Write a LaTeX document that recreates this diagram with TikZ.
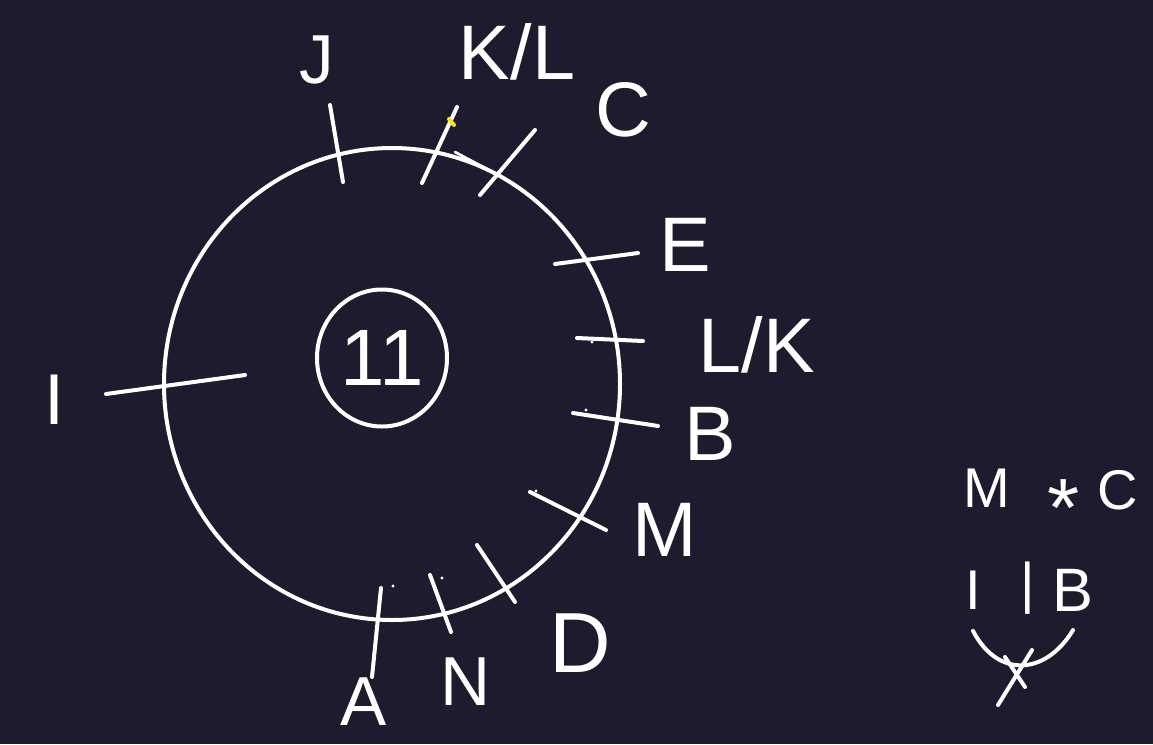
\documentclass[tikz,border=0pt]{standalone}
\usepackage{fontspec}
\setmainfont{Liberation Sans}
\usetikzlibrary{shapes.geometric}
\definecolor{board}{RGB}{30,27,46}
\definecolor{marker}{RGB}{250,230,20}

\begin{document}
\begin{tikzpicture}[x=0.75pt, y=-0.75pt,
  pen/.style={white, line width=3pt, line cap=round},
  letter/.style={text=white, inner sep=0pt, font=\fontsize{#1}{#1}\selectfont},
  letter/.default=58pt
]
\fill[board] (0,0) rectangle (1153,744);
\useasboundingbox (0,0) rectangle (1153,744);

% wheel and hub
\draw[pen] (392,384) ellipse [x radius=171pt, y radius=177pt];
\draw[pen, line width=2pt] (455,152) -- (485,168);
\node[pen, draw, ellipse, minimum width=97.5pt, minimum height=102.75pt, letter=60pt] (hub) at (382,358) {11};

% ticks on the wheel
\draw[pen] (330,105) -- (343,182);
\draw[pen] (457,107) -- (422,183);
\draw[pen] (535,130) -- (480,195);
\draw[pen] (555,264) -- (638,253);
\draw[pen] (577,338) -- (643,341);
\draw[pen] (573,413) -- (658,426);
\draw[pen] (530,492) -- (606,530);
\draw[pen] (477,545) -- (515,602);
\draw[pen] (430,575) -- (451,632);
\draw[pen] (381,588) -- (372,677);
\draw[pen] (106,394) -- (245,375);
\draw[marker, line width=3pt, line cap=round] (449,119) -- (454,125);
\foreach \p in {(393,586),(442,578),(536,491),(592,342),(586,410)}
  \fill[white] \p circle (1.2pt);

% labels round the wheel
\node[letter=52pt] (lJ) at (317,60) {J};
\node[letter] (lKL) at (517,52) {K/L};
\node[letter] (lC) at (623,110) {C};
\node[letter] (lE) at (685,245) {E};
\node[letter] (lLK) at (757,345) {L/K};
\node[letter] (lB) at (710,434) {B};
\node[letter] (lM) at (665,530) {M};
\node[letter=52pt] (lA) at (364,702) {A};
\node[letter=52pt] (lN) at (466,682) {N};
\node[letter=64pt] (lD) at (580,643) {D};
\node[letter=54pt] (lI) at (55,400) {I};

% side notes
\node[letter=42pt] (rM) at (987,488) {M};
\node[letter=62pt, anchor=base] (rStar) at (1064,536) {*};
\node[letter=42pt] (rC) at (1118,490) {C};
\node[letter=42pt] (rI) at (973,590) {I};
\node[letter=42pt] (rBar) at (1028,588) {|};
\node[letter=46pt] (rB) at (1073,590) {B};
\draw[pen] ([yshift=-16pt]rI.south) .. controls +(25,48) and +(-27,45) .. ([yshift=-14pt]rB.south);
\draw[pen] (1032,650) -- (998,705);
\draw[pen] (1005,657) -- (1025,687);
\end{tikzpicture}
\end{document}
